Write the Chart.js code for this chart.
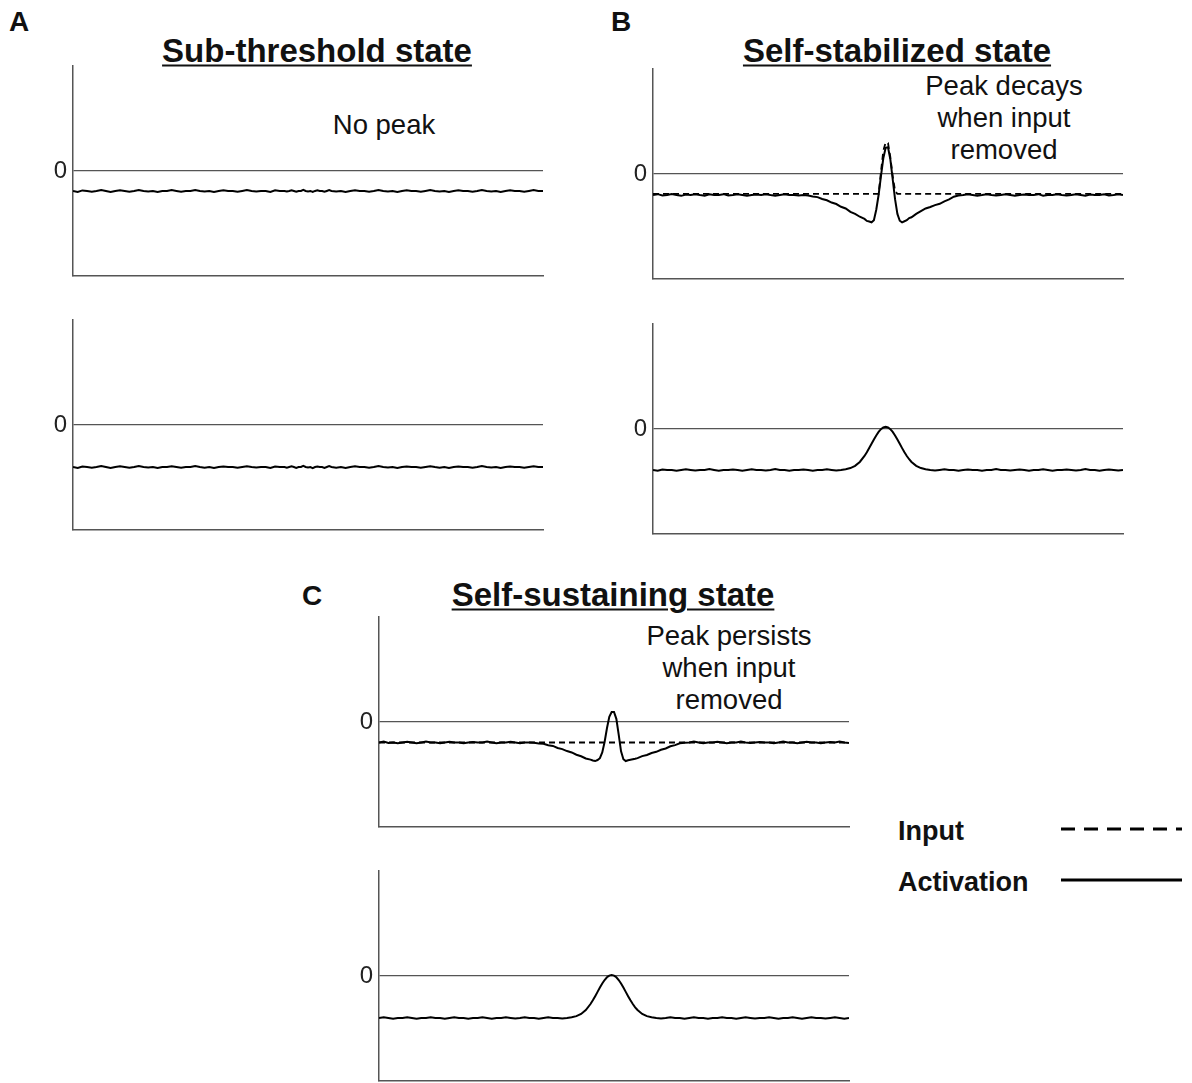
<!DOCTYPE html>
<html lang="en">
<head>
<meta charset="UTF-8" />
<title>Field states</title>
<script src="https://cdn.jsdelivr.net/npm/chart.js"></script>
<style>
  body { margin: 0; background: #fff; font-family: "Liberation Sans", Arial, sans-serif; color: #111; }
  #page { position: relative; width: 1192px; height: 1083px; overflow: hidden; }
  .txt { position: absolute; line-height: 1; white-space: nowrap; transform: translate(-50%, -50%); }
  .letter { font-weight: bold; font-size: 28px; }
  .title { font-weight: bold; font-size: 33px; text-decoration: underline; text-decoration-thickness: 2px; text-underline-offset: 3px; }
  .note { font-size: 27.5px; line-height: 32px; text-align: center; }
  .leg { font-weight: bold; font-size: 27px; transform: translate(0, -50%); }
  .panel { position: absolute; }
</style>
</head>
<body>
<div id="page">
  <div class="txt letter" style="left:19px;top:22px">A</div>
  <div class="txt letter" style="left:621px;top:22px">B</div>
  <div class="txt letter" style="left:312px;top:596px">C</div>

  <div class="txt title" style="left:317px;top:50px">Sub-threshold state</div>
  <div class="txt title" style="left:897px;top:50px">Self-stabilized state</div>
  <div class="txt title" style="left:613px;top:594px">Self-sustaining state</div>

  <div class="txt note" style="left:384px;top:125px">No peak</div>
  <div class="txt note" style="left:1004px;top:118px">Peak decays<br>when input<br>removed</div>
  <div class="txt note" style="left:729px;top:668px">Peak persists<br>when input<br>removed</div>

  <div class="txt leg" style="left:898px;top:831px">Input</div>
  <div class="txt leg" style="left:898px;top:882px">Activation</div>
  <svg style="position:absolute;left:1061px;top:820px" width="124" height="70">
    <line x1="0" y1="9" x2="121" y2="9" stroke="#000" stroke-width="3" stroke-dasharray="14 9" />
    <line x1="0" y1="60" x2="121" y2="60" stroke="#000" stroke-width="3" />
  </svg>

  <canvas class="panel" id="aTopChart" width="514" height="214" style="left:33px;top:64px"></canvas>
  <canvas class="panel" id="aBotChart" width="514" height="214" style="left:33px;top:318px"></canvas>
  <canvas class="panel" id="bTopChart" width="514" height="214" style="left:613px;top:67px"></canvas>
  <canvas class="panel" id="bBotChart" width="514" height="214" style="left:613px;top:322px"></canvas>
  <canvas class="panel" id="cTopChart" width="514" height="214" style="left:339px;top:615px"></canvas>
  <canvas class="panel" id="cBotChart" width="514" height="214" style="left:339px;top:869px"></canvas>
</div>

<script>
  // field position (0..100) – denser around the peak
  const xPos = [
    0,1,2,3,4,5,6,7,8,9,
    10,11,12,13,14,15,16,17,18,19,
    20,21,22,23,24,25,26,27,28,29,
    30,31,32,33,34,35,36,37,38,39,
    40,41,42,43,44,45,
    45.5,46,46.5,47,47.5,48,48.5,49,49.5,50,50.5,51,51.5,52,52.5,53,53.5,54,54.5,
    55,56,57,58,59,60,61,62,63,64,
    65,66,67,68,69,70,71,72,73,74,
    75,76,77,78,79,80,81,82,83,84,
    85,86,87,88,89,90,91,92,93,94,
    95,96,97,98,99,100
  ];

  // A: sub-threshold, input on (top) / removed (bottom)
  const aTopActivation = [
    -1.9,-2.0,-1.85,-1.9,-1.98,-1.9,-1.8,-1.9,-2.0,-1.9,
    -1.84,-1.9,-1.98,-1.9,-1.8,-1.9,-1.95,-1.9,-2.0,-1.9,
    -1.9,-1.82,-1.9,-1.98,-1.9,-1.9,-1.8,-1.9,-1.96,-1.9,
    -2.0,-1.9,-1.84,-1.9,-1.9,-1.98,-1.9,-1.82,-1.9,-1.95,
    -1.9,-1.9,-2.0,-1.84,-1.9,-1.9,
    -1.96,-1.9,-1.83,-1.9,-1.98,-1.9,-1.9,-1.8,-1.9,-1.95,-1.9,-2.0,-1.9,-1.84,-1.9,-1.9,-1.98,-1.9,-1.82,
    -1.9,-1.96,-1.9,-2.0,-1.9,-1.83,-1.9,-1.9,-1.98,-1.9,
    -1.8,-1.9,-1.95,-1.9,-2.0,-1.9,-1.84,-1.9,-1.9,-1.98,
    -1.9,-1.82,-1.9,-1.96,-1.9,-2.0,-1.9,-1.84,-1.9,-1.9,
    -1.98,-1.9,-1.8,-1.9,-1.95,-1.9,-2.0,-1.9,-1.84,-1.9,
    -1.9,-1.98,-1.9,-1.82,-1.9,-1.9
  ];
  const aBotActivation = [
    -4.0,-4.1,-3.95,-4.0,-4.07,-4.0,-3.9,-4.0,-4.1,-4.0,
    -3.94,-4.0,-4.08,-4.0,-3.9,-4.0,-4.05,-4.0,-4.1,-4.0,
    -4.0,-3.92,-4.0,-4.08,-4.0,-4.0,-3.9,-4.0,-4.06,-4.0,
    -4.1,-4.0,-3.95,-4.0,-4.0,-4.08,-4.0,-3.92,-4.0,-4.05,
    -4.0,-4.0,-4.1,-3.95,-4.0,-4.0,
    -4.06,-4.0,-3.94,-4.0,-4.08,-4.0,-4.0,-3.9,-4.0,-4.05,-4.0,-4.1,-4.0,-3.95,-4.0,-4.0,-4.08,-4.0,-3.92,
    -4.0,-4.06,-4.0,-4.1,-4.0,-3.94,-4.0,-4.0,-4.08,-4.0,
    -3.9,-4.0,-4.05,-4.0,-4.1,-4.0,-3.95,-4.0,-4.0,-4.08,
    -4.0,-3.92,-4.0,-4.06,-4.0,-4.1,-4.0,-3.95,-4.0,-4.0,
    -4.08,-4.0,-3.9,-4.0,-4.05,-4.0,-4.1,-4.0,-3.95,-4.0,
    -4.0,-4.08,-4.0,-3.92,-4.0,-4.0
  ];

  // B: self-stabilized
  const bTopActivation = [
    -2.0,-1.92,-2.05,-2.0,-1.9,-2.0,-2.08,-1.95,-2.0,-1.92,
    -2.0,-2.06,-1.93,-2.0,-2.0,-1.92,-2.05,-2.0,-1.93,-2.0,
    -2.08,-2.0,-1.95,-2.0,-1.92,-2.0,-2.06,-2.0,-1.93,-2.0,
    -2.0,-2.05,-2.0,-2.05,-2.14,-2.2,-2.38,-2.5,-2.72,-2.86,
    -3.12,-3.28,-3.6,-3.8,-4.07,-4.28,
    -4.47,-4.53,-4.6,-4.4,-3.4,-2.0,-0.2,1.5,2.5,2.55,1.4,-0.5,-2.4,-3.8,-4.45,-4.6,-4.5,-4.4,-4.2,
    -4.12,-3.8,-3.54,-3.28,-3.14,-2.96,-2.84,-2.6,-2.42,-2.16,
    -2.05,-2.0,-1.93,-2.0,-2.06,-2.0,-1.92,-2.0,-2.05,-2.0,
    -1.93,-2.0,-2.08,-2.0,-1.95,-2.0,-2.0,-1.92,-2.06,-2.0,
    -2.0,-1.93,-2.0,-2.05,-2.0,-1.92,-2.0,-2.08,-1.95,-2.0,
    -2.0,-1.93,-2.05,-2.0,-1.92,-2.0
  ];
  const bInputPos = [0, 48, 48.5, 49, 49.5, 50, 50.5, 51, 51.5, 52, 100];
  const bTopInput = [-1.9, -1.9, 0.2, 2.2, 3.0, 2.95, 1.6, -0.2, -1.6, -1.9, -1.9];
  const bBotActivation = [
    -3.9,-3.98,-3.85,-3.9,-3.9,-3.98,-3.9,-3.84,-3.9,-3.96,
    -3.9,-3.9,-3.82,-3.9,-3.98,-3.9,-3.9,-3.85,-3.9,-3.98,
    -3.9,-3.84,-3.9,-3.9,-3.96,-3.9,-3.82,-3.9,-3.9,-3.98,
    -3.9,-3.9,-3.85,-3.9,-3.98,-3.9,-3.9,-3.84,-3.9,-3.95,
    -3.9,-3.83,-3.72,-3.51,-3.14,-2.57,
    -2.22,-1.82,-1.41,-1.0,-0.62,-0.28,-0.02,0.14,0.2,0.14,-0.02,-0.28,-0.62,-1.0,-1.41,-1.82,-2.22,-2.57,-2.88,
    -3.14,-3.51,-3.72,-3.83,-3.9,-3.95,-3.9,-3.84,-3.9,-3.9,
    -3.98,-3.9,-3.85,-3.9,-3.9,-3.98,-3.9,-3.9,-3.82,-3.9,
    -3.9,-3.96,-3.9,-3.85,-3.9,-3.98,-3.9,-3.9,-3.84,-3.9,
    -3.98,-3.9,-3.9,-3.85,-3.9,-3.96,-3.9,-3.82,-3.9,-3.9,
    -3.98,-3.9,-3.85,-3.9,-3.95,-3.9
  ];

  // C: self-sustaining
  const cTopActivation = [
    -1.95,-1.87,-2.0,-1.95,-2.03,-1.95,-1.88,-1.95,-2.02,-1.95,
    -1.87,-1.95,-1.95,-2.03,-1.95,-1.88,-1.95,-1.95,-2.03,-1.95,
    -1.9,-1.95,-1.95,-1.87,-1.95,-2.02,-1.95,-1.95,-1.88,-1.95,
    -2.03,-1.95,-1.95,-1.98,-2.04,-2.08,-2.22,-2.28,-2.47,-2.58,
    -2.77,-2.9,-3.12,-3.26,-3.47,-3.58,
    -3.66,-3.72,-3.62,-3.45,-2.9,-1.9,-0.6,0.5,0.95,0.95,0.3,-1.2,-2.8,-3.55,-3.72,-3.65,-3.6,-3.55,-3.5,
    -3.44,-3.25,-3.14,-2.95,-2.84,-2.64,-2.52,-2.31,-2.2,-2.03,
    -1.97,-1.95,-1.87,-1.95,-2.02,-1.95,-1.95,-1.88,-1.95,-2.03,
    -1.95,-1.95,-1.87,-1.95,-2.0,-1.95,-1.9,-1.95,-1.95,-2.03,
    -1.95,-1.87,-1.95,-1.95,-2.02,-1.95,-1.88,-1.95,-1.95,-2.03,
    -1.95,-1.9,-1.95,-1.87,-1.95,-2.0
  ];
  const cInputPos = [0, 100];
  const cTopInput = [-1.95, -1.95];
  const cBotActivation = [
    -4.0,-3.93,-4.0,-4.06,-4.0,-4.0,-3.92,-4.0,-4.08,-4.0,
    -4.0,-3.94,-4.0,-4.0,-4.08,-4.0,-3.93,-4.0,-4.0,-4.06,
    -4.0,-4.0,-3.92,-4.0,-4.08,-4.0,-4.0,-3.94,-4.0,-4.05,
    -4.0,-3.93,-4.0,-4.0,-4.08,-4.0,-3.94,-4.0,-4.0,-4.05,
    -4.0,-3.93,-3.82,-3.61,-3.24,-2.67,
    -2.32,-1.92,-1.51,-1.1,-0.72,-0.38,-0.12,0.04,0.1,0.04,-0.12,-0.38,-0.72,-1.1,-1.51,-1.92,-2.32,-2.67,-2.98,
    -3.24,-3.61,-3.82,-3.93,-4.0,-4.05,-4.0,-3.93,-4.0,-4.0,
    -4.08,-4.0,-3.94,-4.0,-4.0,-4.06,-4.0,-4.0,-3.92,-4.0,
    -4.0,-4.08,-4.0,-3.94,-4.0,-4.05,-4.0,-4.0,-3.93,-4.0,
    -4.06,-4.0,-4.0,-3.94,-4.0,-4.08,-4.0,-3.92,-4.0,-4.0,
    -4.05,-4.0,-3.94,-4.0,-4.06,-4.0
  ];

  const fontFamily = "'Liberation Sans', Arial, sans-serif";
  Chart.defaults.font.family = fontFamily;

  function line(xs, ys, dashed) {
    return {
      data: xs.map((x, i) => ({ x: x, y: ys[i] })),
      borderColor: '#000',
      borderWidth: dashed ? 1.8 : 2,
      borderDash: dashed ? [6, 4] : [],
      pointRadius: 0,
      tension: 0,
      fill: false
    };
  }

  function makeChart(id, datasets) {
    new Chart(document.getElementById(id), {
      type: 'line',
      data: { datasets: datasets },
      options: {
        responsive: false,
        animation: false,
        events: [],
        layout: { padding: { top: 2, bottom: 2, right: 4, left: 0 } },
        plugins: { legend: { display: false }, tooltip: { enabled: false } },
        scales: {
          x: {
            type: 'linear', min: 0, max: 100,
            ticks: { display: false },
            grid: { display: false },
            border: { display: true, color: '#555', width: 1.5 },
            afterFit: s => { s.height = 0; s.paddingLeft = 0; s.paddingRight = 0; }
          },
          y: {
            min: -10, max: 10,
            ticks: {
              stepSize: 10,
              callback: v => v === 0 ? '0' : '',
              color: '#222',
              font: { size: 24, family: fontFamily },
              padding: 6
            },
            grid: {
              drawTicks: false,
              lineWidth: 1.2,
              color: c => (c.tick && c.tick.value === 0) ? '#555' : 'rgba(0,0,0,0)'
            },
            border: { display: true, color: '#555', width: 1.5 },
            afterFit: s => { s.width = 40; s.paddingTop = 0; s.paddingBottom = 0; }
          }
        }
      }
    });
  }

  makeChart('aTopChart', [line(xPos, aTopActivation, false)]);
  makeChart('aBotChart', [line(xPos, aBotActivation, false)]);
  makeChart('bTopChart', [line(bInputPos, bTopInput, true), line(xPos, bTopActivation, false)]);
  makeChart('bBotChart', [line(xPos, bBotActivation, false)]);
  makeChart('cTopChart', [line(cInputPos, cTopInput, true), line(xPos, cTopActivation, false)]);
  makeChart('cBotChart', [line(xPos, cBotActivation, false)]);
</script>
</body>
</html>
